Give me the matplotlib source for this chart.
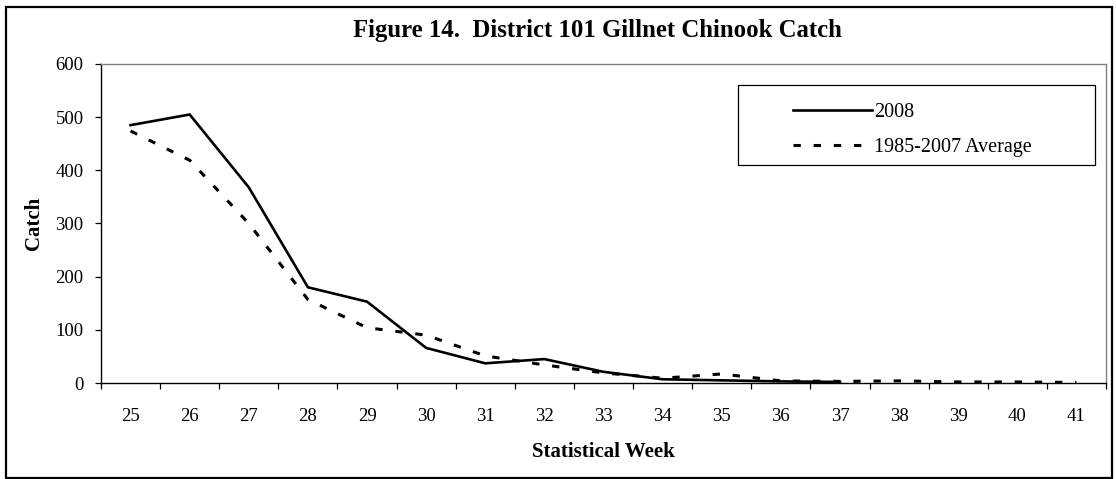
import matplotlib
matplotlib.use("Agg")
import matplotlib.pyplot as plt
from matplotlib.patches import Rectangle
import numpy as np

weeks = [25, 26, 27, 28, 29, 30, 31, 32, 33, 34, 35, 36, 37, 38, 39, 40, 41]
catch_2008 = [485, 505, 368, 180, 153, 66, 37, 45, 21, 7, 5, 3, 2]
catch_avg = [474, 419, 300, 157, 104, 90, 51, 34, 19, 9, 17, 4, 3, 4, 2, 2, 1]

plt.rcParams["font.family"] = ["Liberation Serif", "DejaVu Serif"]

fig = plt.figure(figsize=(11.16, 4.79), dpi=100)
ax = fig.add_axes([101 / 1116, 1 - 383 / 479, 1005 / 1116, 319 / 479])

x = np.arange(len(weeks))
ax.plot(x[:len(catch_2008)], catch_2008, color="black", lw=1.9,
        solid_joinstyle="miter", label="2008")
ax.plot(x, catch_avg, color="black", lw=2.2, dashes=(2.4, 4.2),
        dash_capstyle="butt", label="1985-2007 Average")

ax.set_xlim(-0.5, len(weeks) - 0.5)
ax.set_ylim(0, 600)
ax.set_yticks(range(0, 601, 100))
ax.set_xticks(np.arange(len(weeks) + 1) - 0.5)
ax.set_xticklabels([])
ax.set_xticks(x, minor=True)
ax.set_xticklabels([str(w) for w in weeks], minor=True)
ax.tick_params(axis="x", which="major", length=4.5, width=0.9, direction="out")
ax.tick_params(axis="x", which="minor", length=0, pad=18, labelsize=13.5)
ax.tick_params(axis="y", length=4.5, width=0.9, pad=8, labelsize=13.5)

for side in ["top", "right"]:
    ax.spines[side].set_color("#808080")
    ax.spines[side].set_linewidth(1.0)
for side in ["left", "bottom"]:
    ax.spines[side].set_color("black")
    ax.spines[side].set_linewidth(1.0)

ax.set_xlabel("Statistical Week", fontsize=15, fontweight="bold", va="center")
ax.xaxis.set_label_coords(0.5, (383 - 452) / 319)
ax.set_ylabel("Catch", fontsize=15, fontweight="bold", va="center")
ax.yaxis.set_label_coords((34 - 101) / 1005, 0.5)

leg = ax.legend(loc="upper left", bbox_to_anchor=((793 - 101) / 1005, (383 - 103) / 319),
                frameon=False, borderaxespad=0, borderpad=0, fontsize=14.5,
                handlelength=3.9, handletextpad=0.12, labelspacing=0.78)
ax.add_patch(Rectangle(((738 - 101) / 1005, (383 - 165) / 319), 357 / 1005, 80 / 319,
                       transform=ax.transAxes, fill=False, edgecolor="black", lw=0.9))

fig.text(597 / 1116, 1 - 30 / 479, "Figure 14.  District 101 Gillnet Chinook Catch",
         ha="center", va="center", fontsize=17.8, fontweight="bold")

fig.add_artist(Rectangle((6 / 1116, 1 / 479), 1106 / 1116, 471 / 479,
                         transform=fig.transFigure, fill=False, edgecolor="black", lw=1.6))

fig.savefig("out.png", dpi=100)
